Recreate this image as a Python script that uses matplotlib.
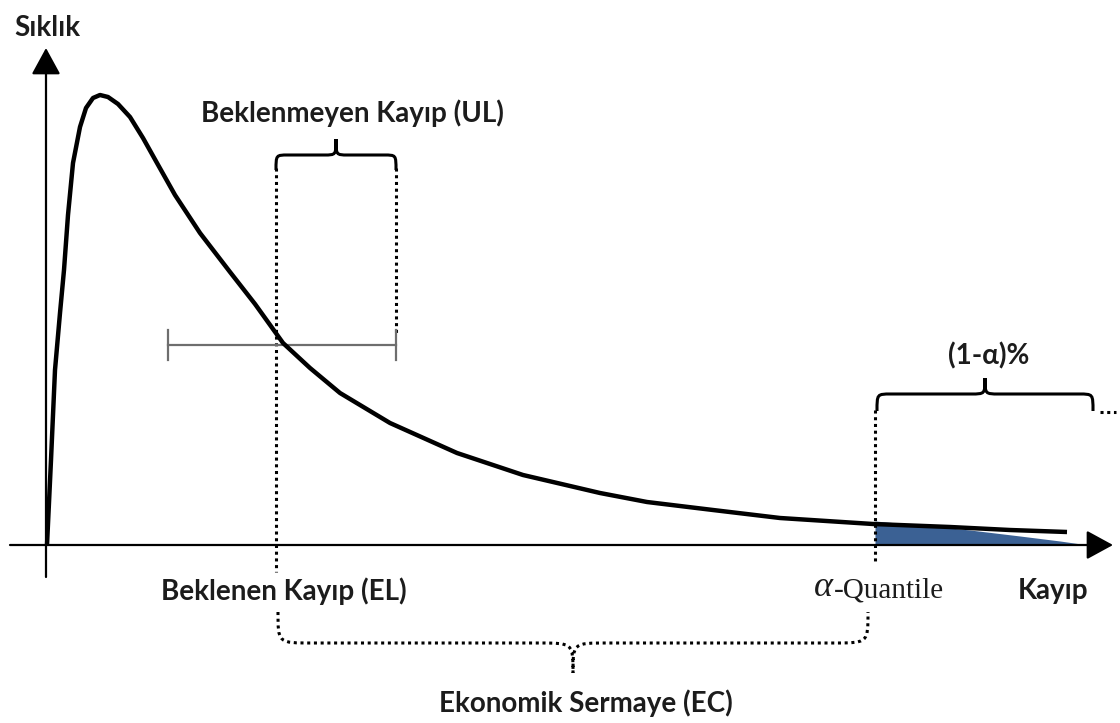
import numpy as np
import matplotlib
matplotlib.use("Agg")
import matplotlib.pyplot as plt
from matplotlib.path import Path
from matplotlib.patches import PathPatch

# kayip dagilimi egrisi (resimden okunan noktalar, piksel birimi)
curve_x = [47, 51, 55, 60, 64, 68, 73, 80, 86, 93, 100, 108, 118, 130, 143, 157, 175, 200,
           230, 255, 283, 310, 340, 390, 457, 523, 600, 647, 713, 780, 873, 950, 1010, 1067]
curve_y = [545, 460, 370, 313, 270, 215, 163, 127, 108, 98, 95, 97, 104, 117, 138, 163, 195, 233,
           272, 304, 343, 368, 393, 423, 453, 475, 493, 502, 510, 518, 524, 527, 530, 532]

# kuyruk bolgesi (1-alpha)
tail_x = [875, 920, 970, 1020, 1060, 1088]
tail_y = [521, 525, 530, 536, 541, 545]

origin = (46, 545)
x_end = 1113
y_top = 48
el_x = 276
ul_x = 396
q_x = 875
bar_left = 168
bar_y = 345

labels = {
    "Sıklık": (47, 28),
    "Beklenmeyen Kayıp (UL)": (352, 113),
    "(1-α)%": (989, 356),
    "Beklenen Kayıp (EL)": (284, 591),
    "Kayıp": (1053, 591),
    "Ekonomik Sermaye (EC)": (586, 703),
}

fig = plt.figure(figsize=(11.2, 7.23), dpi=100)
ax = fig.add_axes([0, 0, 1, 1])
ax.set_xlim(0, 1120)
ax.set_ylim(723, 0)
ax.axis("off")

# eksenler
arr = dict(arrowstyle="-|>,head_length=0.55,head_width=0.3", mutation_scale=30,
           lw=1.6, color="black", shrinkA=0, shrinkB=0)
ax.annotate("", xy=(x_end, origin[1]), xytext=(10, origin[1]), arrowprops=arr)
ax.annotate("", xy=(origin[0], y_top), xytext=(origin[0], 577), arrowprops=arr)

# kuyruk dolgusu
ax.fill_between(tail_x, tail_y, origin[1], color="#3b6194", lw=0, zorder=2)

# egri
ax.plot(curve_x, curve_y, color="black", lw=3.2, solid_capstyle="butt",
        solid_joinstyle="round", zorder=3)

dot = (0, (1, 1.2))
ax.plot([el_x, el_x], [168, 572], color="black", lw=2.2, ls=dot)
ax.plot([ul_x, ul_x], [168, 336], color="black", lw=2.2, ls=dot)
ax.plot([q_x, q_x], [410, 562], color="black", lw=2.2, ls=dot)

# UL cubugu
ax.plot([bar_left, ul_x], [bar_y, bar_y], color="#6e6e6e", lw=1.6)
for bx in (bar_left, ul_x):
    ax.plot([bx, bx], [bar_y - 15, bar_y + 15], color="#6e6e6e", lw=1.6)


def brace(x0, x1, y_end, y_flat, y_tip, r, **kw):
    xm = (x0 + x1) / 2
    verts = [(x0, y_end),
             (x0, y_flat), (x0, y_flat), (x0 + r, y_flat),
             (xm - r, y_flat),
             (xm, y_flat), (xm, y_flat), (xm, y_tip),
             (xm, y_flat), (xm, y_flat), (xm + r, y_flat),
             (x1 - r, y_flat),
             (x1, y_flat), (x1, y_flat), (x1, y_end)]
    codes = [Path.MOVETO,
             Path.CURVE4, Path.CURVE4, Path.CURVE4,
             Path.LINETO,
             Path.CURVE4, Path.CURVE4, Path.CURVE4,
             Path.CURVE4, Path.CURVE4, Path.CURVE4,
             Path.LINETO,
             Path.CURVE4, Path.CURVE4, Path.CURVE4]
    ax.add_patch(PathPatch(Path(verts, codes), fill=False, **kw))


brace(el_x, ul_x, 170, 155, 139, 12, lw=2.2, color="black")
brace(877, 1093, 411, 394, 378, 14, lw=2.2, color="black")
ax.plot([1100, 1116], [412, 412], color="black", lw=2.2, ls=dot)
brace(278, 868, 612, 643, 673, 34, lw=2.2, color="black", ls=dot)

fam = ["Lato", "DejaVu Sans"]
for txt, (tx, ty) in labels.items():
    ax.text(tx, ty, txt, ha="center", va="center", fontsize=20,
            fontweight="bold", family=fam, color="#1c1c1c")

ax.text(833, 588, "α", ha="right", va="center", fontsize=26, style="italic",
        family=["Liberation Serif", "DejaVu Serif"], color="#1c1c1c")
ax.text(834, 590, "-Quantile", ha="left", va="center", fontsize=21,
        family=["Liberation Serif", "DejaVu Serif"], color="#1c1c1c")

fig.savefig("out.png", dpi=100)
